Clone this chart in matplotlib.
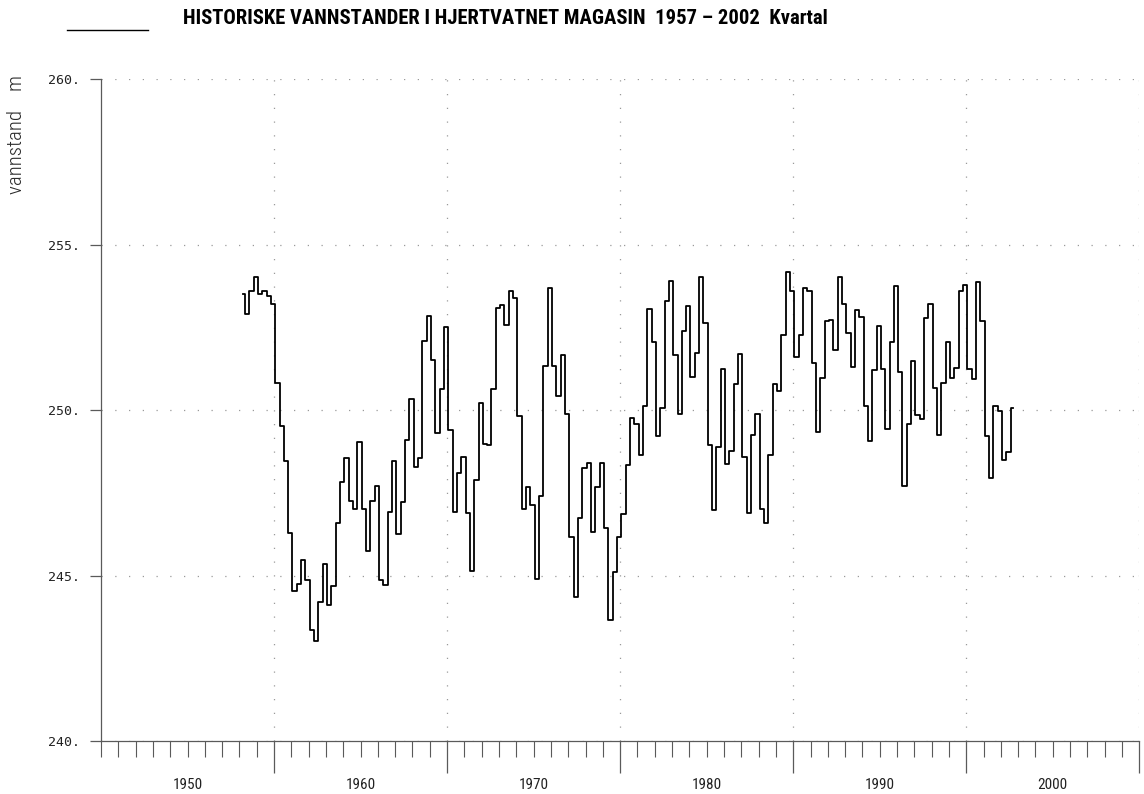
import matplotlib
matplotlib.use('Agg')

import matplotlib.pyplot as plt
from matplotlib.lines import Line2D
from matplotlib.ticker import FixedLocator, MultipleLocator, FuncFormatter
import numpy as np

# ─── Data ────────────────────────────────────────────────────────────────────
TITLE = "HISTORISKE VANNSTANDER I HJERTVATNET MAGASIN  1957 – 2002  Kvartal"
Y_LABEL = "vannstand    m"

first_quarter = 1958.19   # position of first quarterly value on the time axis
quarter_step = 0.25

# water level (m), one value per quarter
levels = [
    253.52, 252.91, 253.61, 254.01, 253.52, 253.59, 253.46, 253.22, 250.82, 249.53,
    248.47, 246.29, 244.54, 244.74, 245.46, 244.88, 243.36, 243.03, 244.20, 245.35,
    244.12, 244.69, 246.60, 247.83, 248.54, 247.25, 247.00, 249.04, 247.02, 245.75,
    247.27, 247.70, 244.88, 244.73, 246.93, 248.45, 246.26, 247.22, 249.10, 250.35,
    248.29, 248.56, 252.08, 252.85, 251.51, 249.32, 250.64, 252.50, 249.39, 246.93,
    248.11, 248.59, 246.88, 245.14, 247.89, 250.22, 248.99, 248.94, 250.65, 253.07,
    253.19, 252.56, 253.61, 253.39, 249.82, 247.02, 247.69, 247.14, 244.89, 247.40,
    251.34, 253.69, 251.34, 250.43, 251.67, 249.87, 246.18, 244.36, 246.73, 248.26,
    248.41, 246.32, 247.69, 248.39, 246.43, 243.66, 245.12, 246.16, 246.86, 248.35,
    249.77, 249.59, 248.65, 250.13, 253.06, 252.06, 249.22, 250.06, 253.31, 253.91,
    251.67, 249.89, 252.39, 253.16, 251.01, 251.74, 254.02, 252.64, 248.96, 246.99,
    248.88, 251.25, 248.37, 248.77, 250.79, 251.69, 248.60, 246.90, 249.26, 249.89,
    247.00, 246.60, 248.66, 250.79, 250.59, 252.26, 254.17, 253.59, 251.62, 252.27,
    253.69, 253.60, 251.41, 249.34, 250.96, 252.68, 252.72, 251.82, 254.03, 253.20,
    252.33, 251.30, 253.03, 252.81, 250.14, 249.07, 251.22, 252.53, 251.25, 249.44,
    252.07, 253.74, 251.16, 247.71, 249.57, 251.47, 249.84, 249.74, 252.79, 253.22,
    250.66, 249.26, 250.82, 252.06, 250.96, 251.26, 253.60, 253.79, 251.25, 250.95,
    253.87, 252.69, 249.23, 247.94, 250.13, 249.98, 248.49, 248.75, 250.07,
]

decade_labels = [1950, 1960, 1970, 1980, 1990, 2000]
decade_ticks = [1960, 1970, 1980, 1990, 2000, 2010]
y_ticks = [240, 245, 250, 255, 260]
x_range = (1950, 2010)
y_range = (240, 260)

# ─── Style ───────────────────────────────────────────────────────────────────
W, H = 1144, 794
_AXIS = "#5a5a5a"
_GRID = "#9a9a9a"
_TEXT = "#222222"
_NARROW = ["Roboto Condensed", "Liberation Sans Narrow", "Roboto", "DejaVu Sans"]

fig = plt.figure(figsize=(W / 100, H / 100), dpi=100)
fig.patch.set_facecolor("white")
ax = fig.add_axes([101 / W, 52.7 / H, 1038.3 / W, 662.3 / H])

x = first_quarter + quarter_step * np.arange(len(levels))
ax.step(x, levels, where="mid", color="black", linewidth=1.3, zorder=3,
        clip_on=False)

ax.set_xlim(*x_range)
ax.set_ylim(*y_range)

for side in ("top", "right"):
    ax.spines[side].set_visible(False)
for side in ("left", "bottom"):
    ax.spines[side].set_color(_AXIS)
    ax.spines[side].set_linewidth(0.9)

# x axis: long ticks at decades, short ticks each year
ax.xaxis.set_major_locator(FixedLocator(decade_ticks))
ax.xaxis.set_minor_locator(MultipleLocator(1))
ax.tick_params(axis="x", which="major", direction="out", length=23,
               width=0.9, color=_AXIS, labelbottom=False)
ax.tick_params(axis="x", which="minor", direction="out", length=11.5,
               width=0.8, color=_AXIS)

# y axis
ax.yaxis.set_major_locator(FixedLocator(y_ticks))
ax.yaxis.set_major_formatter(FuncFormatter(lambda v, _: f"{v:.0f}."))
ax.tick_params(axis="y", which="major", direction="out", length=8,
               width=0.9, color=_AXIS, pad=7, labelsize=9.5, labelcolor=_TEXT)
for lab in ax.get_yticklabels():
    lab.set_family("DejaVu Sans Mono")

# sparse dotted grid
ax.grid(True, which="major", color=_GRID, linewidth=0.9,
        linestyle=(0, (1, 10)), zorder=0)
ax.set_axisbelow(True)

# decade labels centred between the long ticks
for d in decade_labels:
    ax.text(d + 5, -0.066, str(d), transform=ax.get_xaxis_transform(),
            ha="center", va="center", fontsize=11, color=_TEXT,
            family=_NARROW)

fig.text(17 / W, 1 - 135 / H, Y_LABEL, rotation=90, ha="center",
         va="center", fontsize=15, fontweight="light", color="#2a2a2a",
         family=["Roboto Condensed", "Roboto", "DejaVu Sans"])

# legend sample line + title
fig.add_artist(Line2D([67 / W, 148 / W], [1 - 30 / H] * 2,
                      transform=fig.transFigure, color="black", linewidth=1))
title = fig.text(183 / W, 1 - 19 / H, TITLE, ha="left", va="center",
                 fontsize=14, fontweight="bold", color="black",
                 family=_NARROW)

# fit title width to the reference (~647 px)
fig.canvas.draw()
bb = title.get_window_extent()
title.set_fontsize(14 * 647 / bb.width)

fig.savefig("out.png", dpi=100, facecolor="white")
